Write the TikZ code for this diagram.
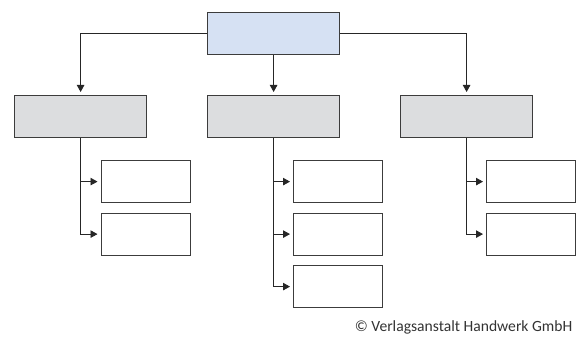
\documentclass[tikz,border=0pt]{standalone}
\usepackage{fontspec}
\setmainfont{Carlito}
\usetikzlibrary{arrows.meta}
\definecolor{topfill}{HTML}{D6E1F3}
\definecolor{midfill}{HTML}{DCDDDF}
\definecolor{edge}{HTML}{3C3C3C}
\definecolor{note}{HTML}{333333}
\tikzset{
  x=1pt, y=-1pt,
  box/.style={draw=edge, line width=1.2pt, rectangle, inner sep=0pt, anchor=north west},
  headbox/.style={box, fill=topfill, minimum width=132pt, minimum height=42pt},
  groupbox/.style={box, fill=midfill, minimum width=132pt, minimum height=42pt},
  itembox/.style={box, fill=white, minimum width=89pt, minimum height=42pt},
  link/.style={draw=black!85, line width=0.9pt},
  arrowlink/.style={link, -{Triangle[length=7pt,width=7.5pt]}, shorten >=3pt},
}
\begin{document}
\begin{tikzpicture}
\useasboundingbox (0,0) rectangle (579,337);

% top level
\node[headbox] (top) at (207,12) {};

% second level
\node[groupbox] (g1) at (14,95) {};
\node[groupbox] (g2) at (207,95) {};
\node[groupbox] (g3) at (400,95) {};

% third level
\node[itembox] (a1) at (100.5,160) {};
\node[itembox] (a2) at (100.5,212.5) {};
\node[itembox] (b1) at (293,160) {};
\node[itembox] (b2) at (293,212.5) {};
\node[itembox] (b3) at (293,265) {};
\node[itembox] (c1) at (486,160) {};
\node[itembox] (c2) at (486,212.5) {};

% connectors from the top box
\draw[arrowlink] (top.west) -| (g1.north);
\draw[arrowlink] (top.south) -- (g2.north);
\draw[arrowlink] (top.east) -| (g3.north);

% connectors to the item boxes
\foreach \g/\i in {g1/a1, g1/a2, g2/b1, g2/b2, g2/b3, g3/c1, g3/c2}
  \draw[arrowlink] (\g.south) |- (\i.west);

% copyright line
\node[anchor=base east, inner sep=0pt, text=note, font=\fontsize{15.6}{18}\selectfont] (copy) at (572.5,331) {© Verlagsanstalt Handwerk GmbH};
\end{tikzpicture}
\end{document}
